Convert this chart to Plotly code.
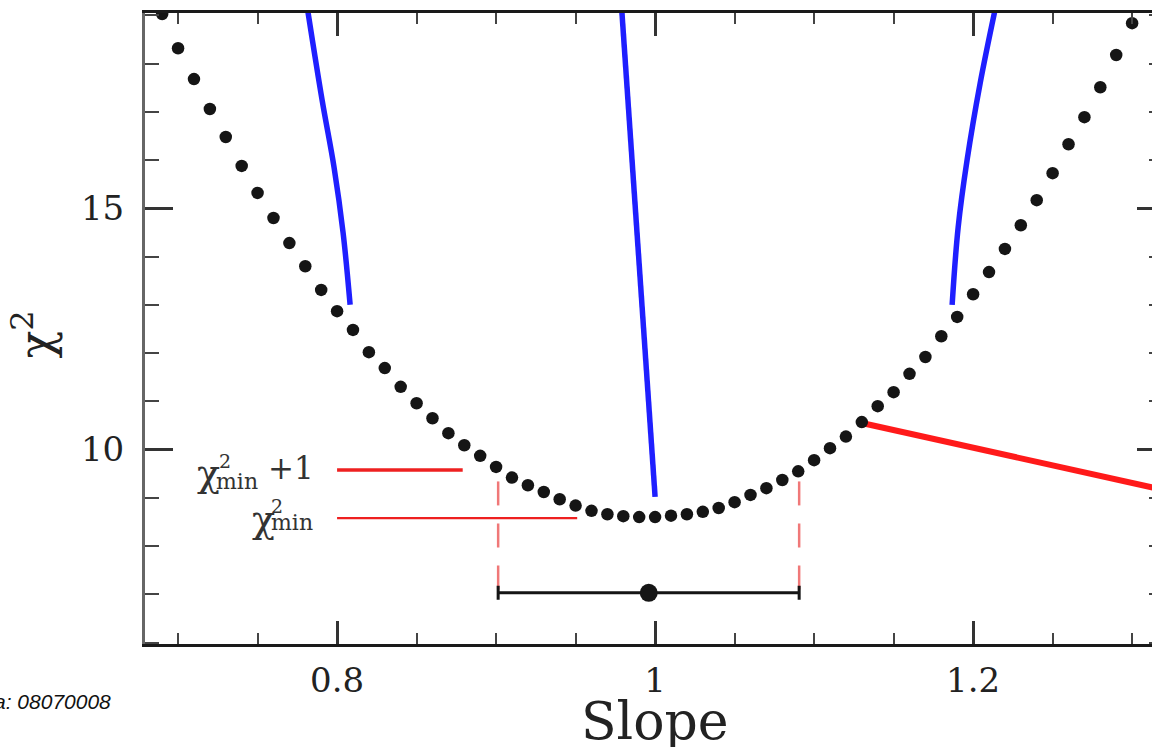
import plotly.graph_objects as go

# ---- data ----
slope = [round(0.69 + 0.01 * i, 2) for i in range(62)]
chi2 = [19.03, 18.32, 17.68, 17.06, 16.48, 15.88, 15.32, 14.80, 14.28, 13.80,
        13.31, 12.87, 12.48, 12.02, 11.69, 11.30, 10.96, 10.65, 10.34, 10.09,
        9.87, 9.64, 9.42, 9.26, 9.12, 8.97, 8.84, 8.73, 8.66, 8.62,
        8.60, 8.60, 8.63, 8.66, 8.71, 8.79, 8.91, 9.06, 9.20, 9.37,
        9.55, 9.78, 10.03, 10.27, 10.57, 10.90, 11.19, 11.57, 11.92, 12.35,
        12.75, 13.22, 13.68, 14.16, 14.65, 15.17, 15.73, 16.33, 16.89, 17.51,
        18.18, 18.84]

blue_left_s = [0.7805, 0.7906, 0.7981, 0.8038, 0.8082]
blue_left_v = [19.32, 17.24, 15.85, 14.49, 13.00]
blue_mid_s = [0.9786, 1.0]
blue_mid_v = [19.32, 9.02]
blue_right_s = [1.2151, 1.2044, 1.1962, 1.1906, 1.1868]
blue_right_v = [19.32, 17.59, 16.00, 14.61, 13.00]

red_fit_s = [1.13, 1.33]
red_fit_v = [10.55, 9.09]

chi2_min = 8.58
chi2_min_p1 = 9.575
lvl_hi_s = [0.800, 0.879]
lvl_lo_s = [0.800, 0.951]

err_lo_s = 0.9013
err_hi_s = 1.0906
dash_v = [9.34, 6.88]

best_s = [0.996]
best_v = [7.03]
best_err_minus = [0.0947]
best_err_plus = [0.0946]

x_tick_vals = [0.8, 1.0, 1.2]
x_tick_text = ["0.8", "1", "1.2"]
y_tick_vals = [10, 15]
y_tick_text = ["10", "15"]

x_range = [0.6792, 1.3125]
y_range = [5.97, 19.05]

SERIF = "DejaVu Serif"
BLUE = "#1f1fff"
RED = "#ff1a1a"

fig = go.Figure()

for xs, ys in [(blue_left_s, blue_left_v), (blue_mid_s, blue_mid_v), (blue_right_s, blue_right_v)]:
    fig.add_trace(go.Scatter(x=xs, y=ys, mode="lines", line=dict(color=BLUE, width=5.5, shape="spline"),
                             showlegend=False, hoverinfo="skip"))

fig.add_trace(go.Scatter(x=red_fit_s, y=red_fit_v, mode="lines", line=dict(color=RED, width=6),
                         showlegend=False, hoverinfo="skip"))

fig.add_trace(go.Scatter(x=lvl_hi_s, y=[chi2_min_p1, chi2_min_p1], mode="lines",
                         line=dict(color="#ee2020", width=3.5), showlegend=False, hoverinfo="skip"))
fig.add_trace(go.Scatter(x=lvl_lo_s, y=[chi2_min, chi2_min], mode="lines",
                         line=dict(color="#ee2020", width=2.2), showlegend=False, hoverinfo="skip"))

for sx in [err_lo_s, err_hi_s]:
    fig.add_trace(go.Scatter(x=[sx, sx], y=dash_v, mode="lines",
                             line=dict(color="#f07878", width=2.5, dash="24px,18px"),
                             showlegend=False, hoverinfo="skip"))

fig.add_trace(go.Scatter(x=slope, y=chi2, mode="markers",
                         marker=dict(color="#151515", size=12.5, line=dict(width=0)),
                         showlegend=False, hoverinfo="skip"))

fig.add_trace(go.Scatter(x=best_s, y=best_v, mode="markers",
                         marker=dict(color="#151515", size=18),
                         error_x=dict(type="data", symmetric=False, array=best_err_plus,
                                      arrayminus=best_err_minus, color="#151515",
                                      thickness=3, width=7),
                         showlegend=False, hoverinfo="skip"))

# Level labels (chi^2 with stacked super/subscript)
ann = []
def lab(text, x, y, size):
    ann.append(dict(text=text, x=x, y=y, xref="x", yref="y", showarrow=False,
                    xanchor="left", yanchor="middle", borderpad=0,
                    font=dict(family=SERIF, size=size, color="#333333")))

lab("χ", 0.7112, 9.52, 38)
lab("2", 0.7250, 9.77, 19)
lab("min", 0.7230, 9.33, 22)
lab("+1", 0.7560, 9.62, 31)

lab("χ", 0.7458, 8.57, 38)
lab("2", 0.7575, 8.84, 19)
lab("min", 0.7575, 8.48, 22)

ann.append(dict(text="Slope", x=1.0, y=-0.1220, xref="x", yref="paper", showarrow=False,
                xanchor="center", yanchor="middle",
                font=dict(family=SERIF, size=52, color="#222222")))
ann.append(dict(text="χ<sup>2</sup>", x=-0.1115, y=0.490, xref="paper", yref="paper",
                showarrow=False, textangle=-90, xanchor="center", yanchor="middle",
                font=dict(family=SERIF, size=46, color="#222222")))
ann.append(dict(text="<i>a: 08070008</i>", x=-0.0318, y=-0.0919, xref="paper", yref="paper",
                showarrow=False, xanchor="right", yanchor="middle",
                font=dict(family="Liberation Sans", size=21, color="#111111")))

fig.update_layout(
    width=1152, height=747,
    margin=dict(l=145, r=0, t=13, b=103, autoexpand=False),
    paper_bgcolor="white", plot_bgcolor="white",
    annotations=ann,
    xaxis=dict(range=x_range, tickmode="array", tickvals=x_tick_vals, ticktext=x_tick_text,
               ticks="inside", ticklen=23, tickwidth=2.5, tickcolor="#333333",
               minor=dict(tickmode="linear", tick0=0, dtick=0.05, ticks="inside", ticklen=11,
                          tickwidth=2, tickcolor="#444444"),
               showline=True, linecolor="#1a1a1a", linewidth=3, mirror="ticks",
               showgrid=False, zeroline=False, ticklabelstandoff=4,
               tickfont=dict(family=SERIF, size=34, color="#222222")),
    yaxis=dict(range=y_range, tickmode="array", tickvals=y_tick_vals, ticktext=y_tick_text,
               ticks="inside", ticklen=28, tickwidth=2.5, tickcolor="#333333",
               minor=dict(tickmode="linear", tick0=0, dtick=1, ticks="inside", ticklen=14,
                          tickwidth=2, tickcolor="#444444"),
               showline=True, linecolor="#666666", linewidth=3, mirror=False,
               showgrid=False, zeroline=False, ticklabelstandoff=11,
               tickfont=dict(family=SERIF, size=34, color="#222222")),
    yaxis2=dict(range=y_range, overlaying="y", side="right", anchor="x",
                tickmode="array", tickvals=y_tick_vals, showticklabels=False,
                ticks="inside", ticklen=15, tickwidth=2.5, tickcolor="#333333",
                minor=dict(tickmode="linear", tick0=0, dtick=1, ticks="inside", ticklen=3,
                           tickwidth=2, tickcolor="#444444"),
                showline=False, showgrid=False, zeroline=False),
)
# invisible trace so the right-hand tick axis renders
fig.add_trace(go.Scatter(x=[best_s[0]], y=[best_v[0]], yaxis="y2", mode="markers",
                         marker=dict(opacity=0), showlegend=False, hoverinfo="skip"))

fig.write_html("out.html")
